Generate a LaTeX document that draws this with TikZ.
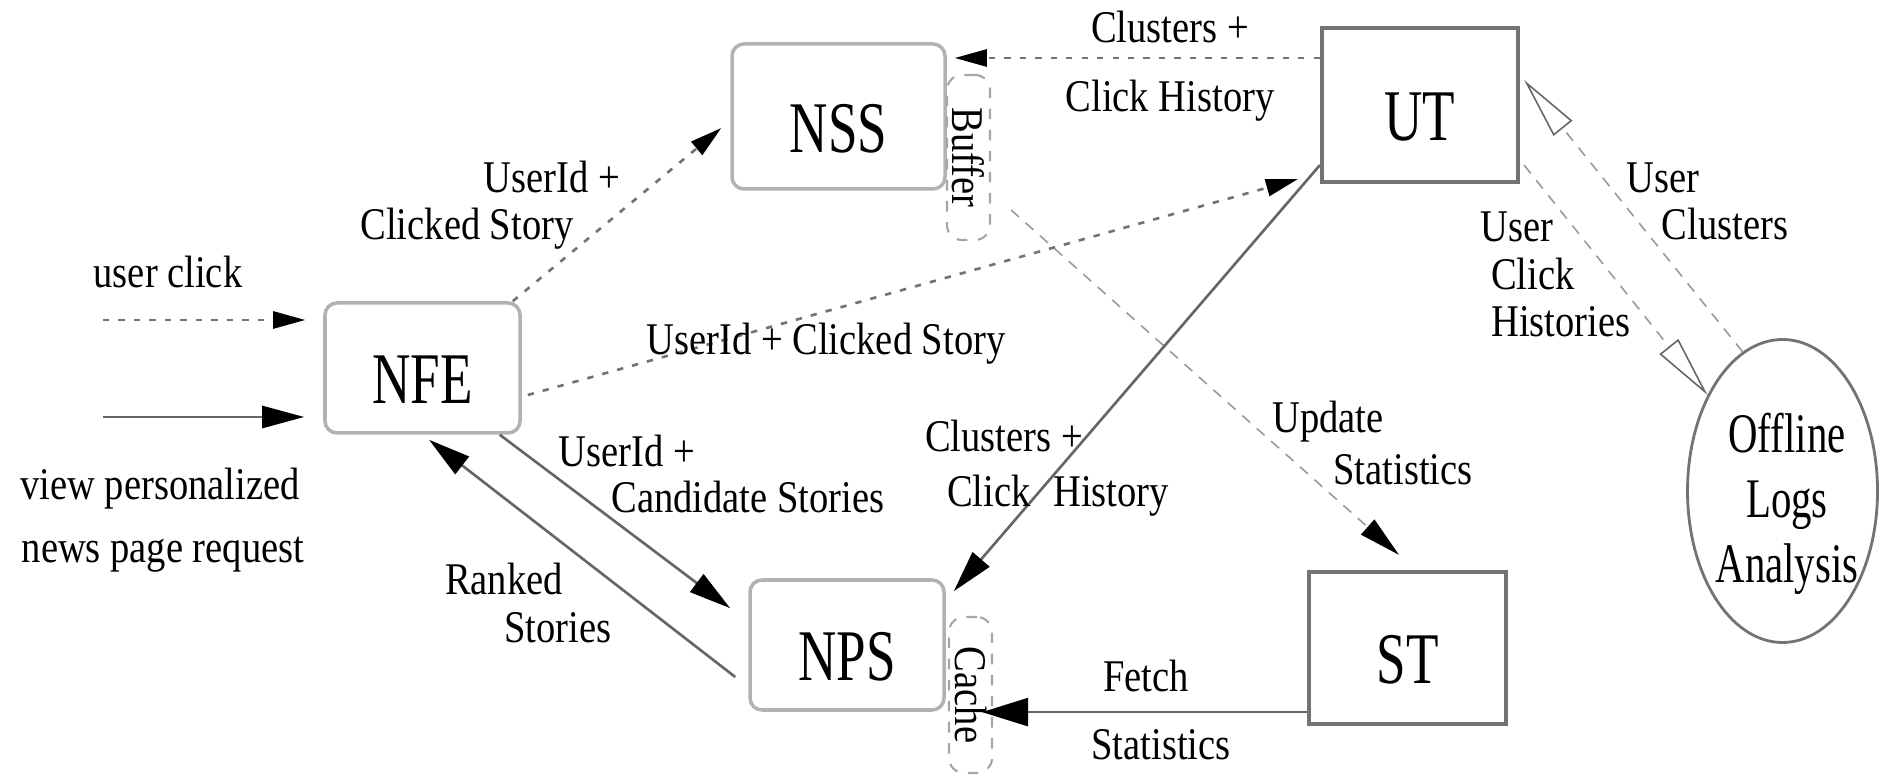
\documentclass[tikz,border=0pt]{standalone}
\usepackage{fontspec}
\setmainfont{Liberation Serif}[FakeStretch=0.85]
\newfontfamily\boxfont{Liberation Serif}[FakeStretch=0.73]
\usetikzlibrary{arrows.meta, shapes.geometric}

\begin{document}
\begin{tikzpicture}[
    server/.style={draw=black!30, line width=1pt, rounded corners=0.12cm, inner sep=0pt,
        font=\boxfont\fontsize{20.7}{24}\selectfont, text height=0.72cm, text depth=0pt},
    table/.style={draw=black!55, line width=1.2pt, inner sep=0pt,
        font=\boxfont\fontsize{20.7}{24}\selectfont, text height=0.72cm, text depth=0pt},
    store/.style={draw=black!35, dashed, line width=0.6pt, rounded corners=0.15cm, inner sep=0pt,
        font=\fontsize{12.9}{15}\selectfont},
    lbl/.style={anchor=base, inner sep=0pt, font=\fontsize{12.9}{15}\selectfont},
    solidarrow/.style={draw=black!60, line width=0.75pt, -{Triangle[length=0.42cm,width=0.22cm,color=black]}},
    dasharrow/.style={draw=black!55, line width=0.75pt, dash pattern=on 1.8pt off 2.6pt,
        -{Triangle[length=0.32cm,width=0.17cm,color=black]}},
    thinarrow/.style={draw=black!40, line width=0.45pt, dash pattern=on 3pt off 2.5pt},
]
\useasboundingbox (0,0) rectangle (18.8,7.77);

% Servers and tables
\node[server, minimum width=1.95cm, minimum height=1.30cm] (NFE) at (4.225,4.09) {NFE};
\node[server, minimum width=2.13cm, minimum height=1.45cm] (NSS) at (8.385,6.605) {NSS};
\node[server, minimum width=1.94cm, minimum height=1.30cm] (NPS) at (8.47,1.32) {NPS};
\node[table, minimum width=1.96cm, minimum height=1.54cm] (UT) at (14.20,6.72) {UT};
\node[table, minimum width=1.97cm, minimum height=1.52cm] (ST) at (14.075,1.29) {ST};
\node[store, minimum width=0.43cm, minimum height=1.65cm] (Buffer) at (9.685,6.195) {\rotatebox{-90}{Buffer}};
\node[store, minimum width=0.43cm, minimum height=1.56cm] (Cache) at (9.705,0.82) {\rotatebox{-90}{Cache}};
\node[ellipse, draw=black!55, line width=0.8pt, minimum width=1.9cm, minimum height=3.03cm] (Offline) at (17.825,2.86) {};
\node[align=center, inner sep=0pt, font=\boxfont\fontsize{15.9}{18.4}\selectfont] (OfflineTxt) at (17.87,2.73) {Offline\\Logs\\Analysis};

% Requests coming in
\coordinate (clickIn) at (1.03,4.57);
\coordinate (viewIn) at (1.03,3.60);
\draw[dasharrow, shorten >=0.18cm] (clickIn) -- (clickIn -| NFE.west);
\draw[solidarrow, shorten >=0.19cm] (viewIn) -- (viewIn -| NFE.west);
\node[lbl] (lUserClick) at (1.68,4.89) {user click};
\node[lbl] (lView) at (1.60,2.77) {view personalized};
\node[lbl] (lNews) at (1.63,2.14) {news page request};

% Clicks
\draw[dasharrow] ([xshift=-0.9mm]NFE.north east) -- ([xshift=-0.9mm,yshift=-1.15mm]NSS.west);
\node[lbl] (lUidA) at (5.52,5.84) {UserId +};
\node[lbl] (lClickedA) at (4.67,5.37) {Clicked Story};
\draw[dasharrow] ([xshift=0.6mm,yshift=-2.7mm]NFE.east) -- ([xshift=-2.2mm,yshift=0.5mm]UT.south west);
\node[lbl] (lUidB) at (8.26,4.22) {UserId + Clicked Story};
\coordinate (chTop) at ([yshift=4.7mm]UT.west);
\draw[dasharrow, shorten >=0.08cm] (chTop) -- (chTop -| NSS.east);
\node[lbl] (lClustA) at (11.70,7.34) {Clusters +};
\node[lbl] (lHistA) at (11.70,6.65) {Click History};
\draw[thinarrow, -{Triangle[length=0.42cm,width=0.2cm,color=black]}] ([xshift=2mm,yshift=-5.25mm]Buffer.east) -- ([xshift=-0.85mm,yshift=1.5mm]ST.north);
\node[lbl] (lUpdate) at (13.28,3.44) {Update};
\node[lbl] (lStatA) at (14.03,2.92) {Statistics};

% Personalized page
\draw[solidarrow] ([yshift=1.9mm]UT.south west) -- ([xshift=0.8mm,yshift=-1.3mm]NPS.north east);
\node[lbl] (lClustB) at (10.04,3.25) {Clusters +};
\node[lbl] (lHistB) at (10.58,2.70) {Click\enspace History};
\draw[solidarrow] ([xshift=-2.2mm]NFE.south east) -- ([xshift=-1.8mm,yshift=-3mm]NPS.north west);
\node[lbl] (lUidC) at (6.27,3.10) {UserId +};
\node[lbl] (lCand) at (7.48,2.64) {Candidate Stories};
\draw[solidarrow] ([xshift=-1.3mm,yshift=-3.2mm]NPS.west) -- ([xshift=0.65mm,yshift=-0.5mm]NFE.south);
\node[lbl] (lRanked) at (5.04,1.82) {Ranked};
\node[lbl] (lRankedSt) at (5.58,1.34) {Stories};
\coordinate (fetchOut) at ([yshift=1.4mm]ST.south west);
\draw[solidarrow, shorten >=-0.11cm, -{Triangle[length=0.46cm,width=0.28cm,color=black]}] (fetchOut) -- (fetchOut -| Cache.east);
\node[lbl] (lFetch) at (11.46,0.85) {Fetch};
\node[lbl] (lStatB) at (11.61,0.17) {Statistics};

% Offline analysis
\draw[thinarrow, -{Triangle[open,length=0.62cm,width=0.24cm,color=black!60]}] ([xshift=0.4mm,yshift=1.9mm]UT.south east) -- (Offline.128);
\node[lbl] (lUserA) at (15.17,5.35) {User};
\node[lbl] (lClickC) at (15.33,4.87) {Click};
\node[lbl] (lHistories) at (15.61,4.40) {Histories};
\draw[thinarrow, -{Triangle[open,length=0.62cm,width=0.24cm,color=black!60]}] (Offline.106) -- ([xshift=0.4mm,yshift=2.5mm]UT.east);
\node[lbl] (lUserB) at (16.63,5.84) {User};
\node[lbl] (lClusters) at (17.25,5.37) {Clusters};
\end{tikzpicture}
\end{document}
